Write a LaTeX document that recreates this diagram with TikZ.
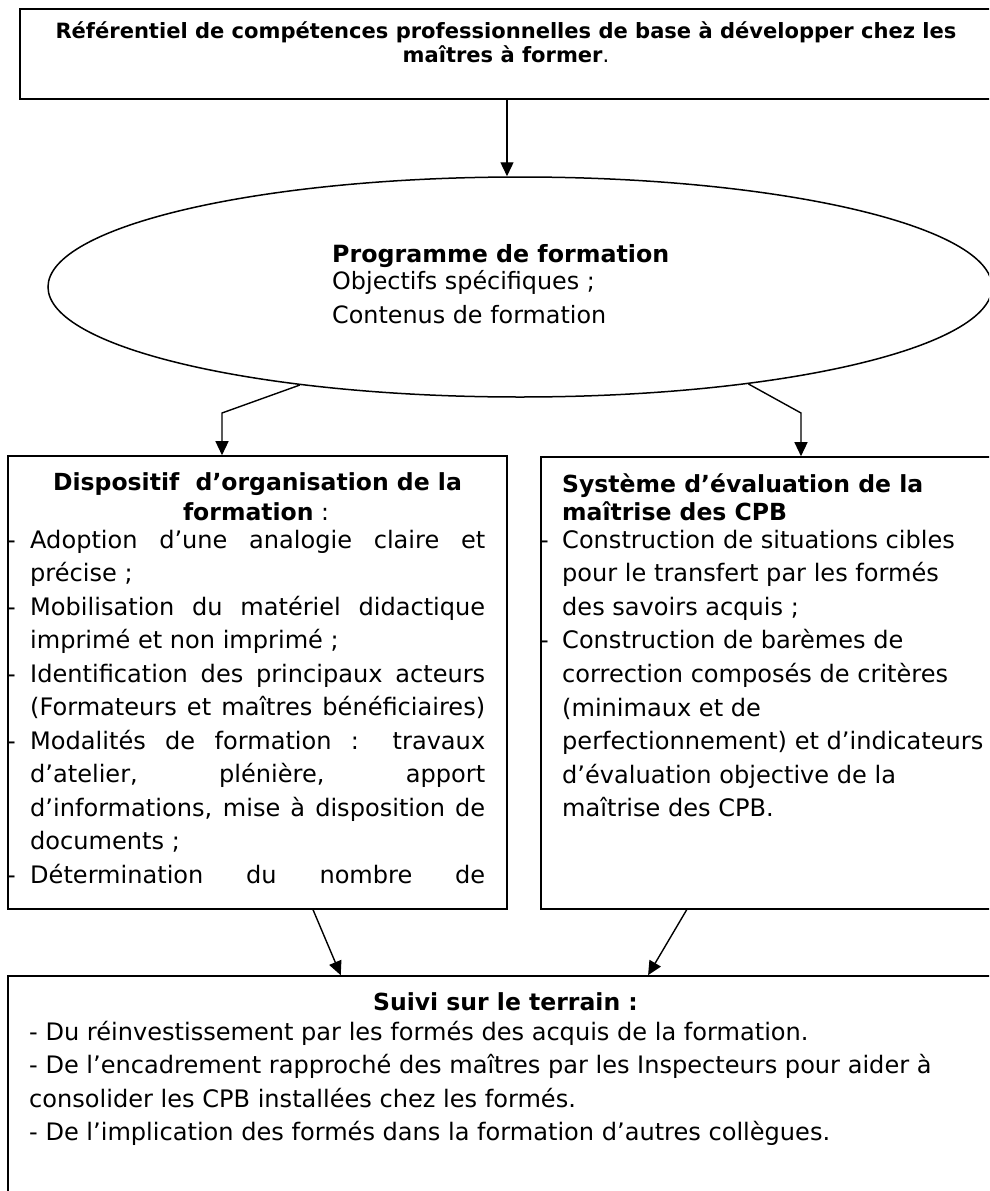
\documentclass[tikz,border=0pt]{standalone}
\usepackage{fontspec}
\setmainfont{DejaVu Sans}
\usetikzlibrary{shapes.geometric,arrows.meta,calc}
\newlength\calen
\newcommand\calibsz[3]{\settowidth\calen{\fontsize{10pt}{12pt}\selectfont#2}\pgfmathsetmacro#1{10*#3/\calen}}
\newcommand\jline[1]{\makebox[455pt][s]{#1}}
\begin{document}
\calibsz\bodysz{Du réinvestissement par les formés des acquis de la formation.}{763}%
\calibsz\boldsz{\bfseries Système d’évaluation de la}{361}%
\calibsz\topsz{\bfseries Référentiel de compétences professionnelles de base à développer chez les}{901}%
\calibsz\ellsz{Contenus de formation}{274}%
\calibsz\ellbsz{\bfseries Programme de formation}{337}%
\def\bodyf{\fontsize{\bodysz pt}{\bodysz pt}\selectfont}%
\def\boldf{\fontsize{\boldsz pt}{\boldsz pt}\selectfont}%
\def\topf{\fontsize{\topsz pt}{\topsz pt}\selectfont}%
\def\ellf{\fontsize{\ellsz pt}{\ellsz pt}\selectfont}%
\def\ellbf{\fontsize{\ellbsz pt}{\ellbsz pt}\selectfont}%
\begin{tikzpicture}[x=1pt,y=-1pt]
\tikzset{
  boxnode/.style={draw, rectangle, line width=1.6pt, inner sep=0pt},
  conn/.style={line width=1.4pt, -{Triangle[length=14pt,width=13pt]}},
  tl/.style={anchor=base west, inner sep=0pt, font=\bodyf},
  tc/.style={anchor=base, inner sep=0pt, font=\bodyf},
}
\clip (0,0) rectangle (989,1191);
\fill[white] (0,0) rectangle (989,1191);
% shapes
\node[boxnode, line width=2.4pt, minimum width=974pt, minimum height=90pt] (top) at (507,54) {};
\node[draw, ellipse, line width=1.5pt, minimum width=944pt, minimum height=220pt, inner sep=0pt] (ell) at (520,287) {};
\node[boxnode, minimum width=499pt, minimum height=453pt] (lbox) at (257.5,682.5) {};
\node[boxnode, minimum width=459pt, minimum height=452pt] (rbox) at (770.5,683) {};
\node[boxnode, minimum width=992pt, minimum height=224pt] (bbox) at (504,1088) {};
% top text
\node[tc, font=\topf] (t1) at (506,38) {\bfseries Référentiel de compétences professionnelles de base à développer chez les};
\node[tc, font=\topf] (t2) at (506,62) {{\bfseries maîtres à former}.};
% ellipse text
\node[tl, font=\ellbf] (e1) at (332,262) {\bfseries Programme de formation};
\node[tl, font=\ellf] (e2) at (332,289) {Objectifs spécifiques ;};
\node[tl, font=\ellf] (e3) at (332,323) {Contenus de formation};
% left box
\node[tc, font=\boldf] (lt1) at (257.5,490) {\bfseries Dispositif\ \ d’organisation de la};
\node[tc, font=\boldf] (lt2) at (256,520) {{\bfseries formation} :};
\node[tl] (ld1) at (7,548) {-};
\node[tl] (ld2) at (7,615) {-};
\node[tl] (ld3) at (7,682) {-};
\node[tl] (ld4) at (7,749) {-};
\node[tl] (ld5) at (7,883) {-};
\node[tl] (l1) at (30,548) {\jline{Adoption d’une analogie claire et}};
\node[tl] (l2) at (30,581.5) {précise ;};
\node[tl] (l3) at (30,615) {\jline{Mobilisation du matériel didactique}};
\node[tl] (l4) at (30,648.5) {imprimé et non imprimé ;};
\node[tl] (l5) at (30,682) {\jline{Identification des principaux acteurs}};
\node[tl] (l6) at (30,715.5) {\jline{(Formateurs et maîtres bénéficiaires)}};
\node[tl] (l7) at (30,749) {\jline{Modalités de formation : travaux}};
\node[tl] (l8) at (30,782.5) {\jline{d’atelier, plénière, apport}};
\node[tl] (l9) at (30,816) {\jline{d’informations, mise à disposition de}};
\node[tl] (l10) at (30,849.5) {documents ;};
\node[tl] (l11) at (30,883) {\jline{Détermination du nombre de}};
% right box
\node[tl, font=\boldf] (rt1) at (562,492) {\bfseries Système d’évaluation de la};
\node[tl, font=\boldf] (rt2) at (562,520) {\bfseries maîtrise des CPB};
\node[tl] (rd1) at (540,548) {-};
\node[tl] (rd2) at (540,648.8) {-};
\node[tl] (r1) at (562,548) {Construction de situations cibles};
\node[tl] (r2) at (562,581.6) {pour le transfert par les formés};
\node[tl] (r3) at (562,615.2) {des savoirs acquis ;};
\node[tl] (r4) at (562,648.8) {Construction de barèmes de};
\node[tl] (r5) at (562,682.4) {correction composés de critères};
\node[tl] (r6) at (562,716) {(minimaux et de};
\node[tl] (r7) at (562,749.6) {perfectionnement) et d’indicateurs};
\node[tl] (r8) at (562,783.2) {d’évaluation objective de la};
\node[tl] (r9) at (562,816.8) {maîtrise des CPB.};
% bottom box
\node[tc, font=\boldf] (bt) at (505.5,1010) {\bfseries Suivi sur le terrain :};
\node[tl] (b1) at (29,1040) {- Du réinvestissement par les formés des acquis de la formation.};
\node[tl] (b2) at (29,1073) {- De l’encadrement rapproché des maîtres par les Inspecteurs pour aider à};
\node[tl] (b3) at (29,1107) {consolider les CPB installées chez les formés.};
\node[tl] (b4) at (29,1140) {- De l’implication des formés dans la formation d’autres collègues.};
% connectors
\coordinate (lb) at (222,413);
\coordinate (rb) at (801,413);
\draw[conn] (top.south) -- (top.south |- ell.north);
\draw[conn] (ell.204) -- (lb) -- (lb |- lbox.north);
\draw[conn] (ell.337) -- (rb) -- (rb |- rbox.north);
\draw[conn] ($(lbox.south west)!0.611!(lbox.south east)$) -- ($(bbox.north west)!0.3357!(bbox.north east)$);
\draw[conn] ($(rbox.south west)!0.318!(rbox.south east)$) -- ($(bbox.north west)!0.645!(bbox.north east)$);
\end{tikzpicture}
\end{document}
